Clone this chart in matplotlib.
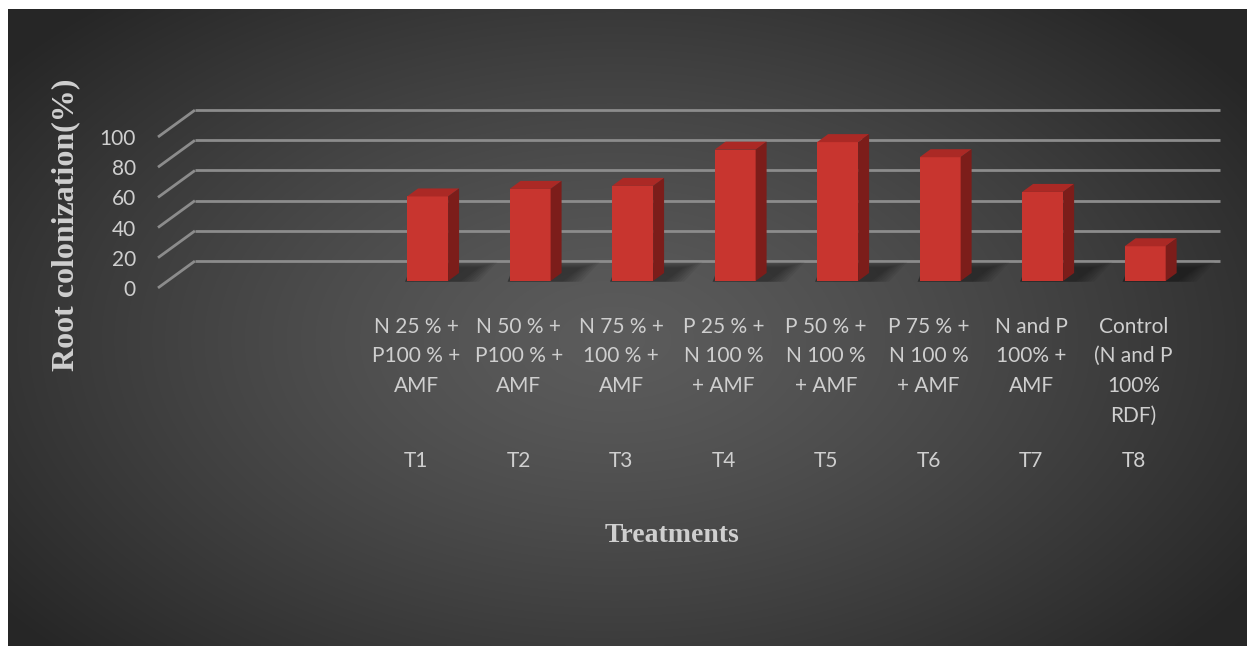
import numpy as np
import matplotlib
matplotlib.use("Agg")
import matplotlib.pyplot as plt
from matplotlib.patches import Polygon
from matplotlib import transforms

# données : colonisation racinaire (%) par traitement
codes = ["T1", "T2", "T3", "T4", "T5", "T6", "T7", "T8"]
treatments = [
    "N 25 % +\nP100 % +\nAMF",
    "N 50 % +\nP100 % +\nAMF",
    "N 75 % +\n100 % +\nAMF",
    "P 25 % +\nN 100 %\n+ AMF",
    "P 50 % +\nN 100 %\n+ AMF",
    "P 75 % +\nN 100 %\n+ AMF",
    "N and P\n100% +\nAMF",
    "Control\n(N and P\n100%\nRDF)",
]
colonization = [56, 61, 63, 87, 92, 82, 59, 23]
y_ticks = [0, 20, 40, 60, 80, 100]

W, H = 1247, 646
txt = "#cfcfcf"
grid_c = "#8c8c8c"

fig = plt.figure(figsize=(W / 100, H / 100), dpi=100, facecolor="white")

# fond gris foncé avec dégradé radial
bg = fig.add_axes([8 / W, 0, 1 - 8 / W, 1 - 9 / H])
gx, gy = np.meshgrid(np.linspace(0, 1, 400), np.linspace(0, 1, 220))
r = np.sqrt(((gx - 0.49) / 0.62) ** 2 + ((gy - 0.52) / 0.72) ** 2)
lum = 0.36 - 0.21 * np.clip(r, 0, 1) ** 1.3
bg.imshow(np.dstack([lum, lum, lum]), aspect="auto", extent=[0, 1, 0, 1],
          interpolation="bilinear")
bg.set_axis_off()

# axe principal (x = catégorie, y = valeur)
ax = fig.add_axes([158 / W, 1 - 300 / H, (1220 - 158) / W, 200 / H])
x0, x1 = -2.63, 7.73
ax.set_xlim(x0, x1)
ax.set_ylim(-12.6, 119.9)
ax.patch.set_visible(False)
for s in ax.spines.values():
    s.set_visible(False)

front_dy, back_dy = -4.6, 13.2
x_back = -2.27

# quadrillage : paroi gauche en biais + paroi du fond
for v in y_ticks:
    ax.plot([x0, x_back], [v + front_dy, v + back_dy], color=grid_c, lw=2,
            solid_capstyle="butt", clip_on=False, zorder=1)
    ax.plot([x_back, x1], [v + back_dy, v + back_dy], color=grid_c, lw=2,
            solid_capstyle="butt", clip_on=False, zorder=1)

xs = np.arange(len(colonization))
bw = 0.40
ddx, ddy = 0.107, 5.3

# ombres portées au pied des barres
for x in xs:
    for k in range(7):
        sh = Polygon([(x - bw / 2 - 0.02, -0.5), (x + bw / 2 + 0.12 + k * 0.03, -0.5),
                      (x + bw / 2 + 0.30 + k * 0.03, 9 + k * 0.6), (x - bw / 2 + 0.05, 9 + k * 0.6)],
                     closed=True, facecolor="black", edgecolor="none", alpha=0.06, zorder=2)
        ax.add_patch(sh)

# faces avant
bars = ax.bar(xs, colonization, width=bw, color="#c8352f", edgecolor="none", zorder=4)

# faces du dessus et côtés
for rect, v in zip(bars, colonization):
    l = rect.get_x()
    r_ = l + rect.get_width()
    top = Polygon([(l, v), (r_, v), (r_ + ddx, v + ddy), (l + ddx, v + ddy)],
                  closed=True, facecolor="#ab2925", edgecolor="none", zorder=4)
    side = Polygon([(r_, 0), (r_ + ddx, ddy), (r_ + ddx, v + ddy), (r_, v)],
                   closed=True, facecolor="#7c1d1a", edgecolor="none", zorder=4)
    ax.add_patch(top)
    ax.add_patch(side)

# graduations
ax.set_yticks([v + front_dy for v in y_ticks])
ax.set_yticklabels([str(v) for v in y_ticks])
ax.tick_params(axis="y", length=0, pad=16, labelsize=15, labelcolor=txt)
ax.set_xticks(xs - 0.112)
ax.set_xticklabels(treatments, linespacing=1.6)
ax.tick_params(axis="x", length=0, pad=12, labelsize=15, labelcolor=txt)
for lab in ax.get_xticklabels() + ax.get_yticklabels():
    lab.set_fontfamily("Lato")

trans = transforms.blended_transform_factory(ax.transData, ax.transAxes)
for x, c in zip(xs, codes):
    ax.text(x - 0.112, -0.805, c, transform=trans, ha="center", va="center",
            fontsize=15, color=txt, family="Lato")

fig.text(672 / W, 1 - 535 / H, "Treatments", ha="center", va="center",
         fontsize=20, fontweight="bold", color=txt, family="Liberation Serif")
fig.text(66 / W, 1 - 225 / H, "Root colonization(%)", ha="center", va="center",
         rotation=90, fontsize=23, fontweight="bold", color=txt, family="Liberation Serif")

fig.savefig("out.png", dpi=100, facecolor="white")
